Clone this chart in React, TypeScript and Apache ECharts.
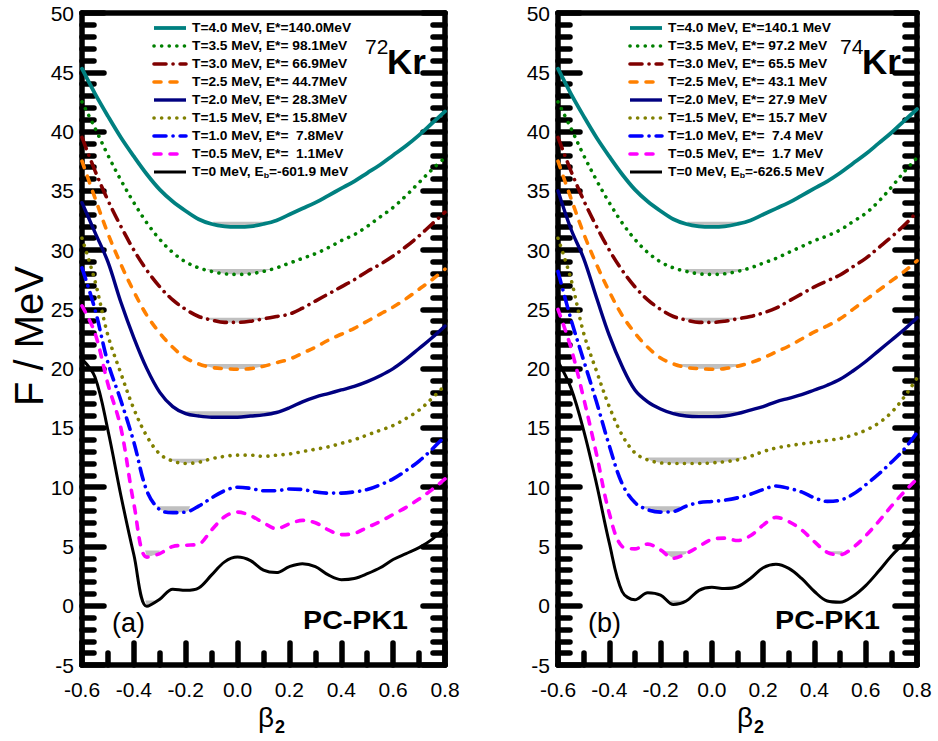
import React, { useEffect, useRef } from "react";
import * as echarts from "echarts";

// β2 grid (x values) shared by all curves
const BETA = [-0.6, -0.55, -0.5, -0.45, -0.4, -0.35, -0.3, -0.25, -0.2, -0.15, -0.1, -0.05, 0, 0.05, 0.1, 0.15, 0.2, 0.25, 0.3, 0.35, 0.4, 0.45, 0.5, 0.55, 0.6, 0.65, 0.7, 0.75, 0.8];

// Panel (a): 72Kr — free energy F (MeV) per temperature
const A_T40 = [45.3, 43.2, 41.3, 39.5, 37.9, 36.4, 35.1, 34.1, 33.3, 32.6, 32.2, 32.0, 31.95, 32.0, 32.2, 32.5, 33.0, 33.5, 34.0, 34.6, 35.2, 35.8, 36.5, 37.2, 38.0, 38.8, 39.7, 40.7, 41.7];
const A_T35 = [42.5, 40.3, 38.0, 35.9, 34.0, 32.3, 30.9, 29.8, 29.0, 28.5, 28.2, 28.0, 27.95, 28.0, 28.2, 28.5, 28.9, 29.3, 29.7, 30.2, 30.8, 31.3, 32.0, 32.8, 33.6, 34.6, 35.7, 36.8, 37.8];
const A_T30 = [39.5, 36.7, 34.2, 32.0, 30.0, 28.3, 26.9, 25.8, 25.0, 24.4, 24.1, 23.9, 23.9, 24.0, 24.2, 24.4, 24.6, 25.1, 25.7, 26.3, 26.9, 27.5, 28.2, 28.8, 29.5, 30.3, 31.2, 32.2, 33.2];
const A_T25 = [37.5, 34.4, 31.4, 28.8, 26.5, 24.5, 23.0, 21.8, 20.9, 20.4, 20.1, 20.0, 19.95, 20.0, 20.2, 20.5, 20.8, 21.3, 21.8, 22.4, 22.9, 23.4, 24.0, 24.6, 25.2, 25.9, 26.7, 27.5, 28.4];
const A_T20 = [34.0, 31.5, 29.0, 25.6, 22.6, 20.0, 18.0, 16.8, 16.2, 16.0, 15.9, 15.9, 15.9, 16.0, 16.1, 16.3, 16.7, 17.2, 17.6, 17.9, 18.2, 18.5, 18.9, 19.4, 20.0, 20.8, 21.7, 22.6, 23.6];
const A_T15 = [31.0, 27.4, 22.8, 19.6, 16.6, 14.3, 12.8, 12.2, 12.0, 12.1, 12.4, 12.6, 12.7, 12.7, 12.6, 12.7, 12.8, 13.0, 13.2, 13.4, 13.7, 14.0, 14.4, 14.8, 15.2, 15.8, 16.5, 17.5, 18.6];
const A_T10 = [28.5, 25.0, 20.5, 17.3, 13.8, 9.7, 8.1, 7.85, 7.9, 8.4, 9.1, 9.7, 10.0, 9.9, 9.7, 9.7, 9.85, 9.8, 9.6, 9.5, 9.5, 9.6, 9.8, 10.2, 10.7, 11.4, 12.2, 13.2, 14.3];
const A_T05 = [25.3, 23.0, 18.7, 15.0, 8.6, 4.1, 4.4, 5.0, 5.1, 5.2, 6.4, 7.5, 7.9, 7.6, 7.0, 6.5, 6.9, 7.2, 7.0, 6.4, 6.0, 6.1, 6.6, 7.1, 7.7, 8.3, 9.0, 9.8, 10.7];
const A_T00 = [20.8, 19.3, 14.8, 9.3, 4.3, -0.05, 0.55, 1.4, 1.3, 1.5, 2.6, 3.7, 4.1, 3.8, 3.0, 2.8, 3.3, 3.55, 3.3, 2.6, 2.2, 2.3, 2.7, 3.2, 3.9, 4.4, 4.9, 5.6, 6.6];

// Panel (b): 74Kr
const B_T40 = [45.3, 43.2, 41.3, 39.5, 37.9, 36.4, 35.1, 34.1, 33.3, 32.6, 32.2, 32.0, 31.95, 32.0, 32.2, 32.5, 33.0, 33.5, 34.0, 34.6, 35.2, 35.8, 36.5, 37.3, 38.1, 39.0, 39.9, 40.9, 41.9];
const B_T35 = [42.5, 40.3, 38.0, 35.9, 34.0, 32.3, 30.9, 29.8, 29.0, 28.5, 28.2, 28.0, 27.95, 28.0, 28.2, 28.5, 28.9, 29.3, 29.8, 30.3, 30.8, 31.2, 31.7, 32.4, 33.1, 34.1, 35.3, 36.6, 37.8];
const B_T30 = [39.5, 36.7, 34.2, 32.0, 30.0, 28.3, 26.9, 25.8, 25.0, 24.4, 24.1, 23.9, 23.9, 24.0, 24.2, 24.4, 24.7, 25.1, 25.7, 26.3, 26.9, 27.4, 27.9, 28.6, 29.3, 30.2, 31.1, 32.1, 33.2];
const B_T25 = [37.5, 34.4, 31.4, 28.8, 26.5, 24.5, 23.0, 21.8, 20.9, 20.4, 20.1, 20.0, 19.95, 20.0, 20.2, 20.5, 20.9, 21.4, 21.9, 22.5, 23.1, 23.6, 24.2, 25.0, 25.8, 26.6, 27.4, 28.2, 29.1];
const B_T20 = [35.0, 31.8, 29.3, 26.0, 22.8, 20.2, 18.2, 17.2, 16.6, 16.2, 16.0, 15.95, 15.95, 16.0, 16.2, 16.5, 16.8, 17.2, 17.5, 17.8, 18.2, 18.6, 19.1, 19.8, 20.6, 21.5, 22.4, 23.3, 24.3];
const B_T15 = [31.0, 27.6, 23.0, 19.8, 16.8, 14.4, 12.9, 12.3, 12.05, 12.0, 12.0, 12.0, 12.05, 12.15, 12.3, 12.6, 13.0, 13.3, 13.5, 13.65, 13.8, 13.95, 14.1, 14.4, 14.8, 15.4, 16.3, 17.6, 19.2];
const B_T10 = [28.2, 24.2, 20.7, 17.2, 13.5, 10.3, 8.7, 8.1, 7.9, 7.95, 8.4, 8.7, 8.8, 8.9, 9.1, 9.4, 9.8, 10.1, 9.9, 9.6, 9.1, 8.8, 8.9, 9.4, 10.2, 11.1, 12.1, 13.2, 14.6];
const B_T05 = [25.0, 21.8, 17.5, 12.8, 7.8, 5.0, 4.8, 5.2, 4.7, 4.0, 4.4, 5.0, 5.6, 5.7, 5.5, 5.9, 6.8, 7.45, 7.1, 6.4, 5.4, 4.5, 4.3, 4.9, 5.9, 7.1, 8.4, 9.6, 10.7];
const B_T00 = [20.6, 18.4, 14.8, 10.3, 5.3, 1.2, 0.5, 1.1, 0.9, 0.1, 0.4, 1.3, 1.55, 1.45, 1.6, 2.3, 3.2, 3.5, 3.15, 2.3, 1.2, 0.4, 0.3, 0.8, 1.7, 2.9, 4.2, 5.3, 6.6];

// Legend texts
const T_LABELS = ["4.0", "3.5", "3.0", "2.5", "2.0", "1.5", "1.0", "0.5", "0"];
const E_STAR_A = ["140.0", "98.1", "66.9", "44.7", "28.3", "15.8", "7.8", "1.1"];
const E_STAR_B = ["140.1", "97.2", "65.5", "43.1", "27.9", "15.7", "7.4", "1.7"];
const EB_A = "-601.9";
const EB_B = "-626.5";

// Gray minimum regions: [beta start, beta end, F level, curve index]
const SHADES_A = [
  [-0.095, 0.113, 32.4, 0], [-0.118, 0.137, 28.4, 1], [-0.157, 0.152, 24.3, 2],
  [-0.172, 0.171, 20.4, 3], [-0.21, 0.152, 16.4, 4], [-0.287, -0.118, 12.4, 5],
  [-0.338, -0.183, 8.4, 6], [-0.36, -0.3, 4.65, 7], [-0.36, -0.31, 0.45, 8],
];
const SHADES_B = [
  [-0.097, 0.12, 32.4, 0], [-0.11, 0.15, 28.4, 1], [-0.11, 0.15, 24.3, 2],
  [-0.15, 0.16, 20.4, 3], [-0.15, 0.12, 16.4, 4], [-0.253, 0.12, 12.5, 5],
  [-0.28, -0.124, 8.4, 6], [-0.19, -0.097, 4.6, 7], [0.434, 0.51, 4.6, 7],
  [-0.163, -0.097, 0.45, 8], [0.47, 0.51, 0.45, 8],
];

const CURVES_A = [A_T40, A_T35, A_T30, A_T25, A_T20, A_T15, A_T10, A_T05, A_T00];
const CURVES_B = [B_T40, B_T35, B_T30, B_T25, B_T20, B_T15, B_T10, B_T05, B_T00];

const COLORS = ["#008080", "#008000", "#800000", "#ff8000", "#000080", "#808000", "#0000ff", "#ff00ff", "#000000"];
const DOT = [0.1, 7.5];
const DASHDOT = [12, 7, 0.1, 7];
const DASH = [7, 9];
const DASHES: any[] = ["solid", DOT, DASHDOT, DASH, "solid", DOT, DASHDOT, DASH, "solid"];
const WIDTHS = [3.8, 3.6, 3.6, 3.6, 3.4, 3.6, 3.6, 3.6, 3.0];

const FONT = "'Liberation Sans', Arial, Helvetica, sans-serif";

const GRIDS = [
  { left: 82, top: 13, width: 363, height: 652 },
  { left: 558, top: 13, width: 359, height: 652 },
];
const BETA_TITLE_X = [258, 737];

function interp(curve: number[], b: number) {
  for (let i = 0; i < BETA.length - 1; i++) {
    if (b >= BETA[i] && b <= BETA[i + 1]) {
      const t = (b - BETA[i]) / (BETA[i + 1] - BETA[i]);
      return curve[i] + t * (curve[i + 1] - curve[i]);
    }
  }
  return curve[curve.length - 1];
}

export default function App() {
  const ref = useRef<HTMLDivElement>(null);
  useEffect(() => {
    if (!ref.current) return;
    const chart = echarts.init(ref.current, null, { renderer: "svg" });

    const xAxes: any[] = [];
    const yAxes: any[] = [];
    const tickStyle = { color: "#000", width: 5.5, cap: "round" };
    const axisLine = { show: true, onZero: false, lineStyle: { color: "#000", width: 5.5 } };
    GRIDS.forEach((_, gi) => {
      xAxes.push({
        type: "value", gridIndex: gi, position: "bottom", min: -0.6, max: 0.8, interval: 0.2,
        axisLine,
        axisTick: { show: true, inside: true, length: 22, lineStyle: tickStyle },
        minorTick: { show: true, splitNumber: 2, length: 12, lineStyle: tickStyle },
        splitLine: { show: false },
        axisLabel: {
          show: true, margin: 14, fontSize: 21, color: "#000", fontFamily: FONT,
          showMinLabel: true, showMaxLabel: true,
          formatter: (v: number) => (Math.abs(v) < 1e-9 ? "0.0" : v.toFixed(1)),
        },
      });
      xAxes.push({
        type: "value", gridIndex: gi, position: "top", min: -0.6, max: 0.8, interval: 0.2,
        axisLine,
        axisTick: { show: false }, axisLabel: { show: false }, splitLine: { show: false },
      });
      yAxes.push({
        type: "value", gridIndex: gi, position: "left", min: -5, max: 50, interval: 5,
        axisLine,
        axisTick: { show: true, inside: true, length: 22, lineStyle: tickStyle },
        minorTick: { show: true, splitNumber: 5, length: 12, lineStyle: tickStyle },
        splitLine: { show: false },
        axisLabel: { show: true, margin: 8, fontSize: 21, color: "#000", fontFamily: FONT, showMinLabel: true, showMaxLabel: true },
      });
      yAxes.push({
        type: "value", gridIndex: gi, position: "right", min: -5, max: 50, interval: 5,
        axisLine,
        axisTick: { show: true, inside: true, length: 22, lineStyle: tickStyle },
        minorTick: { show: true, splitNumber: 5, length: 12, lineStyle: tickStyle },
        splitLine: { show: false },
        axisLabel: { show: false },
      });
    });

    const series: any[] = [];
    const panels = [
      { curves: CURVES_A, shades: SHADES_A },
      { curves: CURVES_B, shades: SHADES_B },
    ];
    panels.forEach((p, gi) => {
      series.push({
        type: "custom",
        xAxisIndex: gi * 2,
        yAxisIndex: gi * 2,
        z: 1,
        data: p.shades.map((s) => [s[0], s[2], s[1], s[3]]),
        encode: { x: 0, y: 1 },
        renderItem: (params: any, api: any) => {
          const s = p.shades[params.dataIndex];
          const curve = p.curves[s[3]];
          const pts: number[][] = [];
          pts.push(api.coord([s[0], s[2]]));
          const n = 24;
          for (let k = 1; k < n; k++) {
            const b = s[0] + ((s[1] - s[0]) * k) / n;
            pts.push(api.coord([b, Math.min(interp(curve, b), s[2])]));
          }
          pts.push(api.coord([s[1], s[2]]));
          return { type: "polygon", shape: { points: pts }, style: { fill: "#c0c0c0" } };
        },
      });
      p.curves.forEach((c, ci) => {
        series.push({
          type: "line",
          xAxisIndex: gi * 2,
          yAxisIndex: gi * 2,
          z: 2,
          data: BETA.map((b, i) => [b, c[i]]),
          smooth: 0.35,
          showSymbol: false,
          symbol: "none",
          lineStyle: { color: COLORS[ci], width: WIDTHS[ci], type: DASHES[ci], cap: "round" },
        });
      });
    });

    const graphics: any[] = [];
    GRIDS.forEach((g, gi) => {
      const eStar = gi === 0 ? E_STAR_A : E_STAR_B;
      const unit = gi === 0 ? "MeV" : " MeV";
      const eb = gi === 0 ? EB_A : EB_B;
      T_LABELS.forEach((t, i) => {
        const y = 28 + i * 18;
        const dash = DASHES[i];
        graphics.push({
          type: "line",
          shape: { x1: g.left + 72, y1: y, x2: g.left + 104, y2: y },
          style: {
            stroke: COLORS[i], lineWidth: WIDTHS[i],
            lineDash: dash === "solid" ? null : dash, lineCap: dash === "solid" ? "butt" : "round",
          },
          z: 10,
        });
        const base = { fontFamily: FONT, fontWeight: "bold", fontSize: 12.5, fill: "#000" };
        if (i < 8) {
          graphics.push({
            type: "text", x: g.left + 110, y, z: 10, scaleX: 1.1,
            style: { ...base, text: `T=${t} MeV, E*=${eStar[i].padStart(5, " ")}${unit}`, verticalAlign: "middle", align: "left" },
          });
        } else {
          graphics.push({
            type: "text", x: g.left + 110, y, z: 10, scaleX: 1.1,
            style: {
              ...base,
              text: `{n|T=${t} MeV, E}{s|b}{n|=${eb} MeV}`,
              verticalAlign: "middle", align: "left",
              rich: {
                n: { fontFamily: FONT, fontWeight: "bold", fontSize: 12.5, fill: "#000" },
                s: { fontFamily: FONT, fontWeight: "bold", fontSize: 8, fill: "#000", padding: [7, 0, 0, 0] },
              },
            },
          });
        }
      });
      // nucleus label
      const mass = gi === 0 ? "72" : "74";
      const kx = gi === 0 ? 365 : 840;
      graphics.push({ type: "text", x: kx, y: 46, z: 10, style: { text: mass, fontFamily: FONT, fontSize: 21, fill: "#000", verticalAlign: "middle" } });
      graphics.push({ type: "text", x: kx + 22, y: 61, z: 10, style: { text: "Kr", fontFamily: FONT, fontSize: 35, fontWeight: "bold", fill: "#000", verticalAlign: "middle" } });
      // panel letter and model
      graphics.push({ type: "text", x: g.left + 30, y: 623, z: 10, style: { text: gi === 0 ? "(a)" : "(b)", fontFamily: FONT, fontSize: 27, fill: "#000", verticalAlign: "middle" } });
      graphics.push({ type: "text", x: g.left + g.width - 37, y: 620, z: 10, scaleX: 1.1, style: { text: "PC-PK1", fontFamily: FONT, fontSize: 26, fontWeight: "bold", fill: "#000", verticalAlign: "middle", align: "right" } });
      // x axis title
      const bx = BETA_TITLE_X[gi];
      graphics.push({ type: "text", x: bx, y: 717, z: 10, style: { text: "β", fontFamily: FONT, fontSize: 28, fill: "#000", verticalAlign: "middle" } });
      graphics.push({ type: "text", x: bx + 17, y: 727, z: 10, style: { text: "2", fontFamily: FONT, fontSize: 18, fontWeight: "bold", fill: "#000", verticalAlign: "middle" } });
    });
    // y axis title
    graphics.push({
      type: "text", x: 29, y: 336, rotation: Math.PI / 2, z: 10,
      style: { text: "F / MeV", fontFamily: FONT, fontSize: 40, fill: "#000", align: "center", verticalAlign: "middle" },
    });

    chart.setOption({
      animation: false,
      backgroundColor: "#fff",
      grid: GRIDS.map((g) => ({ ...g, containLabel: false })),
      xAxis: xAxes,
      yAxis: yAxes,
      series,
      graphic: graphics,
    });
    return () => chart.dispose();
  }, []);
  return <div ref={ref} style={{ position: "fixed", left: 0, top: 0, width: 938, height: 741 }} />;
}
